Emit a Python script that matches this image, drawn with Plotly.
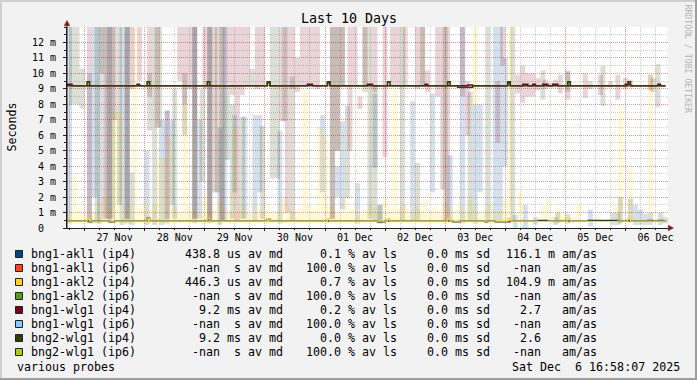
import plotly.graph_objects as go
from datetime import datetime, timedelta

# ---------------- data ----------------
graph_start = datetime(2025, 11, 26, 16, 58, 7)
graph_end = datetime(2025, 12, 6, 16, 58, 7)

day_starts = ["2025-11-27", "2025-11-28", "2025-11-29", "2025-11-30", "2025-12-01",
              "2025-12-02", "2025-12-03", "2025-12-04", "2025-12-05", "2025-12-06"]
day_labels = ["27 Nov", "28 Nov", "29 Nov", "30 Nov", "01 Dec",
              "02 Dec", "03 Dec", "04 Dec", "05 Dec", "06 Dec"]

y_tick_values = [0, 1, 2, 3, 4, 5, 6, 7, 8, 9, 10, 11, 12]
y_tick_labels = ["0", "1 m", "2 m", "3 m", "4 m", "5 m", "6 m", "7 m", "8 m",
                 "9 m", "10 m", "11 m", "12 m"]

series_names = ["bng1-akl1 (ip4)", "bng1-akl1 (ip6)", "bng1-akl2 (ip4)", "bng1-akl2 (ip6)",
                "bng1-wlg1 (ip4)", "bng1-wlg1 (ip6)", "bng2-wlg1 (ip4)", "bng2-wlg1 (ip6)"]
series_colors = ["#004586", "#ff420e", "#ffd320", "#579d1c",
                 "#7e0021", "#83caff", "#314004", "#aecf00"]
median_text = [" 438.8 us", "  -nan  s", " 446.3 us", "  -nan  s",
               "   9.2 ms", "  -nan  s", "   9.2 ms", "  -nan  s"]
loss_text = ["  0.1", "100.0", "  0.7", "100.0", "  0.2", "100.0", "  0.0", "100.0"]
sdev_text = ["0.0", "0.0", "0.0", "0.0", "0.0", "0.0", "0.0", "0.0"]
amas_text = ["116.1 m", " -nan  ", "104.9 m", " -nan  ", "  2.7  ", " -nan  ", "  2.6  ", " -nan  "]
footer_left = "various probes"
footer_right = "Sat Dec  6 16:58:07 2025"
title_text = "Last 10 Days"

# smoke: hours after graph start, low / high (ms)
akl1_v4_smoke_h = [0, 8, 10, 12, 16, 21, 23, 25, 31, 37, 39, 41, 50, 52, 56, 60, 62, 66, 70, 74,
                   76, 84, 101, 107, 109, 115, 122, 124, 137, 145, 152, 157, 162, 164, 170, 172,
                   174, 178, 182, 186, 194, 208, 217, 219, 226, 228, 230, 232, 236, 238]
akl1_v4_smoke_lo = [0.3, 0.3, 2.0, 0.3, 0.3, 0.2, 0.3, 0.2, 0.2, 0.2, 0.3, 1.5, 0.3, 0.6, 0.3, 0.2,
                    0.5, 2.3, 0.6, 0.4, 2.3, 0.3, 2.3, 2.0, 1.2, 0.3, 3.9, 0.3, 0.5, 2.3, 0.5, 0.3,
                    0.3, 2.3, 0.5, 0.5, 4.0, 0.0, 0.0, 0.2, 0.2, 0.1, 0.2, 0.2, 0.2, 0.2, 0.2, 0.2,
                    0.2, 0.3]
akl1_v4_smoke_hi = [14, 10.0, 14, 14, 14, 14, 14, 3.6, 5.0, 7.0, 7.6, 7.0, 14, 7.0, 14, 6.5, 14,
                    7.3, 7.2, 7.3, 7.3, 6.3, 7.3, 4.0, 6.9, 2.9, 8.7, 1.5, 8.2, 8.7, 4.7, 14, 8.0,
                    8.0, 14, 14, 11.0, 0.85, 1.5, 0.7, 0.7, 1.2, 1.0, 1.0, 1.5, 1.2, 0.9, 1.0, 1.0,
                    0.7]

akl2_v4_smoke_h = [0, 2, 4, 6, 8, 10, 12, 14, 16, 18, 20, 22, 24, 26, 28, 30, 32, 34, 36, 38,
                   40, 42, 44, 46, 48, 50, 52, 54, 56, 58, 60, 62, 64, 66, 68, 70, 72, 74, 76, 78,
                   80, 82, 84, 86, 88, 90, 92, 94, 96, 98, 100, 102, 104, 106, 108, 110, 112, 114,
                   116, 118, 120, 122, 124, 126, 128, 130, 132, 134, 136, 138, 140, 142, 144, 146,
                   148, 150, 152, 154, 156, 158, 160, 162, 164, 166, 168, 170, 172, 174, 176,
                   162, 180, 189, 191, 195, 197, 203, 211, 218, 220, 224, 232, 237]
akl2_v4_smoke_lo = [0.3, 0.3, 0.3, 0.3, 0.3, 0.3, 0.3, 0.3, 0.3, 0.3, 0.3, 0.3, 0.3, 0.3, 0.3,
                    0.3, 0.3, 0.3, 0.3, 0.3, 0.3, 0.3, 0.3, 0.3, 0.3, 0.3, 0.3, 0.3, 0.3, 0.3,
                    0.3, 0.3, 0.3, 0.3, 0.3, 0.3, 0.3, 0.3, 0.3, 0.3, 0.3, 0.3, 0.3, 0.3, 0.3,
                    0.3, 0.3, 0.3, 0.3, 0.3, 0.3, 0.3, 0.3, 0.3, 0.3, 0.3, 0.3, 0.3, 0.3, 0.3,
                    0.3, 0.3, 0.3, 0.3, 0.3, 0.3, 0.3, 0.3, 0.3, 0.3, 0.3, 0.3, 0.3, 0.3, 0.3,
                    0.3, 0.3, 0.3, 0.3, 0.3, 0.3, 0.3, 0.3, 0.3, 0.3, 0.3, 0.3, 0.3, 0.3,
                    8.0, 0.5, 0.5, 0.5, 0.4, 0.3, 0.5, 0.4, 0.5, 0.5, 0.5, 0.5, 0.4]
akl2_v4_smoke_hi = [1.0, 3.4, 1.3, 0.9, 1.5, 1.0, 1.6, 2.0, 1.3, 7.5, 7.5, 1.2, 1.6, 14, 1.3,
                    1.8, 1.2, 1.5, 4.5, 4.5, 5.8, 1.3, 1.1, 8.0, 1.4, 1.2, 1.0, 2.0, 1.5, 1.2,
                    1.8, 1.3, 1.0, 6.5, 1.2, 1.5, 1.0, 1.6, 1.2, 1.0, 1.4, 1.1, 1.5, 2.0, 1.2,
                    1.0, 1.3, 8.9, 1.5, 1.2, 6.5, 6.0, 1.4, 1.2, 1.0, 1.8, 1.2, 1.4, 1.0, 1.2,
                    1.5, 1.3, 1.0, 2.0, 1.2, 9.0, 1.3, 1.5, 1.0, 1.4, 1.2, 1.8, 1.0, 1.3, 1.1,
                    1.6, 1.3, 1.0, 1.5, 1.2, 1.8, 1.4, 1.0, 1.2, 1.5, 1.0, 1.2, 1.8, 14,
                    14, 2.4, 1.4, 1.9, 1.3, 1.0, 1.6, 0.8, 1.4, 8.0, 3.9, 10.0, 0.9]

wlg1_v4_smoke_h = [8, 14, 16, 18, 23, 25, 28, 32, 35, 39, 44, 46, 48, 50, 54, 56, 58, 61, 63, 65,
                   67, 69, 71, 75, 77, 85, 87, 89, 91, 93, 95, 97, 99, 105, 107, 109, 112, 114,
                   116, 118, 122, 126, 129, 131, 134, 139, 141, 143, 147, 149, 151, 157, 159, 171,
                   173, 179, 181, 183, 185, 187, 190, 192, 194, 196, 199, 206, 212, 216, 219, 222,
                   224, 232]
wlg1_v4_smoke_lo = [0.5, 0.6, 0.6, 7.0, 0.6, 9.0, 9.5, 8.5, 6.5, 0.6, 9.5, 8.0, 9.0, 0.6, 9.0,
                    0.5, 2.3, 0.5, 9.3, 8.6, 0.5, 8.6, 9.2, 9.0, 9.2, 6.9, 1.0, 9.0, 8.8, 9.2,
                    9.2, 9.2, 9.0, 0.6, 5.0, 9.2, 5.0, 9.2, 7.7, 9.2, 8.8, 4.6, 9.2, 9.2, 9.2,
                    9.0, 9.2, 8.8, 8.5, 2.5, 0.5, 8.5, 6.0, 5.5, 10.5, 8.7, 8.1, 8.5, 8.5, 8.9,
                    9.0, 9.1, 9.1, 8.7, 8.3, 8.4, 8.6, 9.1, 8.3, 9.0, 9.1, 8.9]
wlg1_v4_smoke_hi = [14, 14, 14, 14, 14, 14, 14, 14, 14, 7.6, 14, 14, 14, 14, 14, 14, 14, 14, 14,
                    14, 14, 14, 14, 14, 14, 14, 14, 14, 11.0, 14, 14, 14, 14, 14, 14, 14, 14, 14,
                    8.5, 14, 14, 14, 14, 14, 14, 14, 14, 10.2, 14, 14, 14, 14, 9.5, 9.5, 14, 9.9,
                    10.5, 10.0, 10.0, 9.7, 9.6, 9.4, 9.6, 9.9, 10.2, 10.0, 9.9, 9.5, 9.9, 9.7,
                    9.6, 9.9]

wlg2_v4_smoke_h = [1, 3, 5, 11, 13, 15, 17, 20, 23, 32, 34, 36, 42, 46, 50, 53, 56, 59, 61, 63,
                   65, 69, 73, 77, 81, 83, 86, 89, 105, 107, 109, 111, 118, 120, 122, 124, 133,
                   139, 141, 150, 160, 167, 177, 189, 195, 199, 199, 208, 213, 220, 224, 233, 235]
wlg2_v4_smoke_lo = [8.0, 8.0, 7.7, 0.3, 10.0, 0.6, 0.6, 1.5, 0.6, 6.3, 0.2, 6.5, 0.6, 6.0, 0.6,
                    3.0, 0.5, 2.3, 0.5, 4.4, 0.6, 0.6, 9.2, 0.6, 3.2, 3.2, 6.9, 0.5, 0.6, 5.0,
                    9.2, 1.9, 8.8, 0.6, 0.5, 0.3, 0.5, 0.5, 9.2, 0.5, 0.5, 0.5, 0.5, 8.3, 0.3,
                    8.8, 0.3, 9.0, 7.9, 0.3, 0.5, 8.8, 7.8]
wlg2_v4_smoke_hi = [14, 14, 10.3, 14, 14, 14, 14, 14, 14, 10.0, 14, 14, 9.0, 10.0, 14, 9.0, 14,
                    14, 14, 9.2, 8.0, 7.2, 10.3, 6.6, 14, 14, 14, 9.8, 14, 14, 14, 7.9, 14, 14,
                    9.2, 1.5, 14, 4.2, 14, 14, 8.8, 14, 14, 10.2, 1.0, 10.1, 0.9, 9.5, 10.5, 2.0,
                    1.9, 9.7, 10.6]

# median lines (step): hours after start, value (ms)
akl1_v4_med_h = [0, 9, 10, 17, 19, 32, 33, 56, 57, 80, 81, 124, 127, 154, 157, 167, 168, 171,
                 177, 188, 192, 208, 220, 224, 225, 232, 234, 236, 238, 239]
akl1_v4_med_v = [0.45, 0.40, 0.45, 0.40, 0.45, 0.62, 0.45, 0.52, 0.45, 0.58, 0.45, 0.40, 0.45,
                 0.40, 0.45, 0.40, 0.45, 0.40, 0.45, 0.48, 0.45, 0.48, 0.45, 0.48, 0.45, 0.48,
                 0.45, 0.48, 0.45, 0.45]
akl2_v4_med_h = [0, 8, 9, 32, 33, 56, 57, 80, 81, 104, 105, 128, 129, 152, 153, 176, 177, 188,
                 192, 200, 201, 208, 220, 224, 225, 239]
akl2_v4_med_v = [0.45, 0.60, 0.45, 0.60, 0.45, 0.60, 0.45, 0.60, 0.45, 0.60, 0.45, 0.60, 0.45,
                 0.60, 0.45, 0.60, 0.45, 0.42, 0.45, 0.60, 0.45, 0.42, 0.45, 0.60, 0.45, 0.45]
wlg1_v4_med_h = [0, 2, 28, 29, 80, 81, 96, 98, 104, 105, 120, 122, 143, 144, 160, 162, 176, 177,
                 182, 184, 186, 187, 190, 192, 194, 196, 223, 225, 236, 237, 239]
wlg1_v4_med_v = [9.3, 9.2, 9.3, 9.2, 9.4, 9.2, 9.3, 9.2, 9.4, 9.2, 9.3, 9.2, 9.3, 9.2, 9.25,
                 9.2, 9.4, 9.2, 9.3, 9.2, 9.3, 9.2, 9.3, 9.2, 9.3, 9.2, 9.3, 9.2, 9.3, 9.2, 9.2]
wlg2_v4_med_h = [0, 8, 9, 32, 33, 56, 57, 80, 81, 104, 105, 128, 129, 152, 153, 156, 162, 176,
                 177, 200, 201, 224, 225, 239]
wlg2_v4_med_v = [9.2, 9.45, 9.2, 9.45, 9.2, 9.45, 9.2, 9.45, 9.2, 9.45, 9.2, 9.45, 9.2, 9.45,
                 9.2, 9.1, 9.2, 9.45, 9.2, 9.45, 9.2, 9.45, 9.2, 9.2]

# ---------------- layout constants ----------------
W, H = 697, 380
PL, PR, PT, PB = 67, 668, 27, 228
MONO = "DejaVu Sans Mono"
SMOKE_ALPHA = 0.17
BIN_HOURS = 2


def px(x):
    return (x - PL) / (PR - PL)


def py(y):
    return (PB - y) / (PB - PT)


def rgba(hexcol, a):
    h = hexcol.lstrip("#")
    return "rgba(%d,%d,%d,%.3f)" % (int(h[0:2], 16), int(h[2:4], 16), int(h[4:6], 16), a)


def nb(s):
    return s.replace(" ", "\u00a0")


def ytick(s):
    # rrdtool pads a value with no unit prefix so it lines up with "1 m"
    if " " not in s:
        return s + "<span style='color:#f2f2f2'>\u00a0m</span>"
    return nb(s)


def at_hours(hs, shift=0.0):
    return [graph_start + timedelta(hours=h + shift) for h in hs]


fig = go.Figure()

smoke = {
    0: (akl1_v4_smoke_h, akl1_v4_smoke_lo, akl1_v4_smoke_hi),
    2: (akl2_v4_smoke_h, akl2_v4_smoke_lo, akl2_v4_smoke_hi),
    4: (wlg1_v4_smoke_h, wlg1_v4_smoke_lo, wlg1_v4_smoke_hi),
    6: (wlg2_v4_smoke_h, wlg2_v4_smoke_lo, wlg2_v4_smoke_hi),
}
medians = {
    0: (akl1_v4_med_h, akl1_v4_med_v),
    2: (akl2_v4_med_h, akl2_v4_med_v),
    4: (wlg1_v4_med_h, wlg1_v4_med_v),
    6: (wlg2_v4_med_h, wlg2_v4_med_v),
}
line_widths = {0: 1.6, 2: 1.2, 4: 1.6, 6: 1.6}

for i in [0, 2, 4, 6]:
    hs, lo, hi = smoke[i]
    fig.add_trace(go.Bar(
        x=at_hours(hs, BIN_HOURS / 2), base=lo, y=[b - a for a, b in zip(lo, hi)],
        width=BIN_HOURS * 3600 * 1000,
        marker=dict(color=rgba(series_colors[i], SMOKE_ALPHA), line=dict(width=0)),
        showlegend=False, hoverinfo="skip"))
    mh, mv = medians[i]
    fig.add_trace(go.Scatter(
        x=at_hours(mh), y=mv, mode="lines", line=dict(color=series_colors[i],
                                                      width=line_widths[i], shape="hv"),
        showlegend=False, hoverinfo="skip"))

grid_minor = "rgba(150,150,150,0.45)"
grid_major = "rgba(222,79,79,0.45)"

fig.update_layout(
    width=W, height=H, autosize=False,
    margin=dict(l=PL, r=W - PR, t=PT, b=H - PB, pad=0),
    paper_bgcolor="#f2f2f2", plot_bgcolor="#ffffff",
    barmode="overlay", showlegend=False,
    font=dict(family=MONO, color="#000000"),
    xaxis=dict(
        type="date", range=[graph_start, graph_end],
        tickmode="array", tickvals=day_starts, ticktext=day_labels,
        ticklabelshift=30, ticklabelstandoff=-2,
        tickfont=dict(family=MONO, size=10, color="#000000"),
        ticks="outside", ticklen=2, tickcolor="#1f1f1f",
        showgrid=True, gridcolor=grid_major, griddash="1px,1px", gridwidth=1,
        minor=dict(tickmode="linear", tick0="2025-11-26", dtick=6 * 3600 * 1000,
                   showgrid=True, gridcolor=grid_minor, griddash="1px,1px",
                   ticks="outside", ticklen=1, tickcolor="#1f1f1f"),
        showline=True, linecolor="#1f1f1f", linewidth=1, zeroline=False, fixedrange=True),
    yaxis=dict(
        range=[0, 13], tickmode="array", tickvals=y_tick_values,
        ticktext=[ytick(t) for t in y_tick_labels],
        tickfont=dict(family=MONO, size=10, color="#000000"),
        ticks="outside", ticklen=3, tickcolor="#1f1f1f", ticklabelstandoff=5,
        showgrid=True, gridcolor=grid_major, griddash="1px,1px", gridwidth=1,
        minor=dict(tickmode="linear", tick0=0, dtick=0.5, showgrid=True,
                   gridcolor=grid_minor, griddash="1px,1px",
                   ticks="outside", ticklen=2, tickcolor="#1f1f1f"),
        showline=True, linecolor="#1f1f1f", linewidth=1, zeroline=False, fixedrange=True),
)

ann = []
shapes = []

# title, axis unit, watermark
ann.append(dict(text=title_text, x=px(348.5), y=py(19), xref="paper", yref="paper",
                showarrow=False, font=dict(family=MONO, size=13.3, color="#000"),
                xanchor="center", yanchor="middle", borderpad=0))
ann.append(dict(text="Seconds", x=px(11), y=py(127.5), xref="paper", yref="paper",
                showarrow=False, textangle=-90, font=dict(family=MONO, size=11.65, color="#000"),
                xanchor="center", yanchor="middle", borderpad=0))
ann.append(dict(text="RRDTOOL / TOBI OETIKER", x=px(687.5), y=py(59), xref="paper",
                yref="paper", showarrow=False, textangle=90,
                font=dict(family=MONO, size=8.2, color="#b4b4b4"),
                xanchor="center", yanchor="middle", borderpad=0))

# legend rows
for i, name in enumerate(series_names):
    yc = 254 + 14 * i
    shapes.append(dict(type="rect", xref="paper", yref="paper",
                       x0=px(15.5), x1=px(22.5), y0=py(yc - 3.5), y1=py(yc + 3.5),
                       fillcolor=series_colors[i], line=dict(color="#202020", width=1)))
    cols = [
        (name, 30, "left"),
        (median_text[i] + " av md", 284, "right"),
        (loss_text[i] + " % av ls", 397.5, "right"),
        (sdev_text[i] + " ms sd", 491.2, "right"),
        (amas_text[i] + " am/as", 598, "right"),
    ]
    for txt, xx, anc in cols:
        ann.append(dict(text=nb(txt), x=px(xx), y=py(yc), xref="paper", yref="paper",
                        showarrow=False, xanchor=anc, yanchor="middle", borderpad=0,
                        font=dict(family=MONO, size=11.65, color="#000")))

ann.append(dict(text=nb(footer_left), x=px(16), y=py(366.5), xref="paper", yref="paper",
                showarrow=False, xanchor="left", yanchor="middle", borderpad=0,
                font=dict(family=MONO, size=11.65, color="#000")))
ann.append(dict(text=nb(footer_right), x=px(681), y=py(366.5), xref="paper", yref="paper",
                showarrow=False, xanchor="right", yanchor="middle", borderpad=0,
                font=dict(family=MONO, size=11.65, color="#000")))

# axis extensions and arrows
shapes.append(dict(type="line", xref="paper", yref="paper", x0=px(67), x1=px(67),
                   y0=py(228), y1=py(25), line=dict(color="#1f1f1f", width=1)))
shapes.append(dict(type="path", xref="paper", yref="paper",
                   path="M %f,%f L %f,%f L %f,%f Z" % (px(67), py(20.5), px(64.2), py(25.8),
                                                       px(69.8), py(25.8)),
                   fillcolor="#801f1f", line=dict(color="#801f1f", width=0.5)))
shapes.append(dict(type="path", xref="paper", yref="paper",
                   path="M %f,%f L %f,%f L %f,%f Z" % (px(673.5), py(228), px(668.2), py(225.2),
                                                       px(668.2), py(230.8)),
                   fillcolor="#801f1f", line=dict(color="#801f1f", width=0.5)))

# 3D frame
shapes.append(dict(type="line", xref="paper", yref="paper", x0=px(0), x1=px(697),
                   y0=py(1), y1=py(1), line=dict(color="#cfcfcf", width=2)))
shapes.append(dict(type="line", xref="paper", yref="paper", x0=px(1), x1=px(1),
                   y0=py(0), y1=py(380), line=dict(color="#cfcfcf", width=2)))
shapes.append(dict(type="line", xref="paper", yref="paper", x0=px(696), x1=px(696),
                   y0=py(0), y1=py(380), line=dict(color="#9e9e9e", width=2)))
shapes.append(dict(type="line", xref="paper", yref="paper", x0=px(0), x1=px(697),
                   y0=py(379), y1=py(379), line=dict(color="#9e9e9e", width=2)))

fig.update_layout(annotations=ann, shapes=shapes)

fig.write_html("out.html", config={"displayModeBar": False},
               post_script="document.body.style.margin='0px';"
                           "document.body.style.overflow='hidden';")
